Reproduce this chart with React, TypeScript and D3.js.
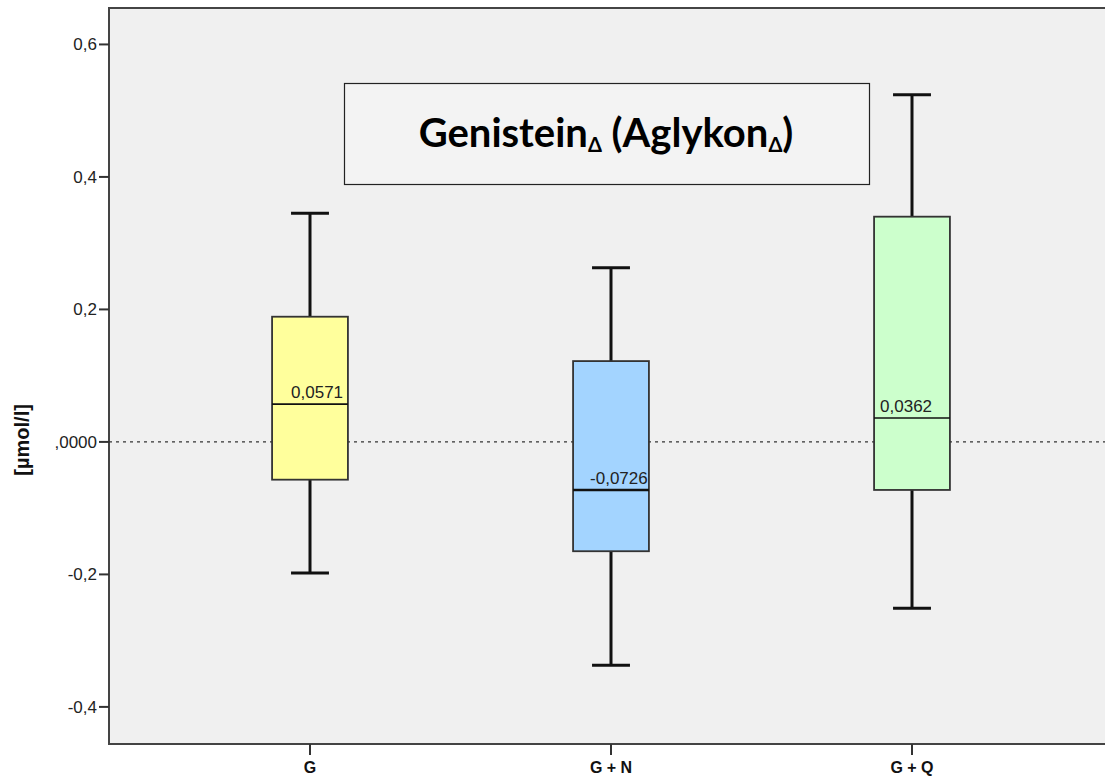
import React from "react";
import * as d3 from "d3";

const categories = ["G", "G + N", "G + Q"];
const whiskerLow = [-0.198, -0.337, -0.251];
const q1 = [-0.057, -0.165, -0.0725];
const median = [0.0571, -0.0726, 0.0362];
const q3 = [0.189, 0.122, 0.34];
const whiskerHigh = [0.345, 0.263, 0.524];
const medianLabels = ["0,0571", "-0,0726", "0,0362"];
const tickValues = [0.6, 0.4, 0.2, 0, -0.2, -0.4];
const tickLabels = ["0,6", "0,4", "0,2", ",0000", "-0,2", "-0,4"];
const boxColors = ["#ffff9c", "#a3d4ff", "#ccffcc"];
const labelDx = [19, 17, 6];

const W = 1105;
const H = 778;
const left = 109;
const top = 8;
const bottom = 744;

export default function App() {
  const y = d3.scaleLinear().domain([-0.456, 0.655]).range([bottom, top]);
  const x = d3.scaleBand<string>().domain(categories).range([159.5, 1062.5]);
  const bw = x.bandwidth();
  const boxW = bw * 0.252;
  const capW = boxW / 2;
  const fontAxis = "'Liberation Sans', Arial, sans-serif";

  return (
    <svg width={W} height={H} style={{ position: "absolute", left: 0, top: 0 }} xmlns="http://www.w3.org/2000/svg">
      <rect x={0} y={0} width={W} height={H} fill="#ffffff" />
      <rect x={left} y={top} width={W - left + 10} height={bottom - top} fill="#f0f0f0" stroke="#444" strokeWidth={2} />
      {/* zero reference line */}
      <line x1={left} x2={W} y1={y(0)} y2={y(0)} stroke="#333" strokeWidth={1.3} strokeDasharray="3,4" />
      {/* y ticks */}
      {tickValues.map((v, i) => (
        <g key={i}>
          <line x1={left - 10} x2={left} y1={y(v)} y2={y(v)} stroke="#333" strokeWidth={2} />
          <text x={left - 12} y={y(v)} dy="0.35em" textAnchor="end" fontFamily={fontAxis} fontSize={17} fill="#222">
            {tickLabels[i]}
          </text>
        </g>
      ))}
      {/* y axis title */}
      <text
        transform={`translate(22, ${y(0) - 2}) rotate(-90)`}
        textAnchor="middle"
        dy="0.35em"
        fontFamily={fontAxis}
        fontSize={20}
        fontWeight="bold"
        fill="#111"
      >
        [µmol/l]
      </text>
      {/* x ticks */}
      {categories.map((c, i) => {
        const cx = (x(c) as number) + bw / 2;
        return (
          <g key={c}>
            <line x1={cx} x2={cx} y1={bottom} y2={bottom + 11} stroke="#333" strokeWidth={2} />
            <text x={cx} y={bottom + 29} textAnchor="middle" fontFamily={fontAxis} fontSize={16} fontWeight="bold" fill="#111">
              {c}
            </text>
          </g>
        );
      })}
      {/* boxes */}
      {categories.map((c, i) => {
        const cx = (x(c) as number) + bw / 2;
        return (
          <g key={"b" + c}>
            <line x1={cx} x2={cx} y1={y(whiskerHigh[i])} y2={y(q3[i])} stroke="#111" strokeWidth={3} />
            <line x1={cx} x2={cx} y1={y(q1[i])} y2={y(whiskerLow[i])} stroke="#111" strokeWidth={3} />
            <line x1={cx - capW / 2} x2={cx + capW / 2} y1={y(whiskerHigh[i])} y2={y(whiskerHigh[i])} stroke="#111" strokeWidth={3} />
            <line x1={cx - capW / 2} x2={cx + capW / 2} y1={y(whiskerLow[i])} y2={y(whiskerLow[i])} stroke="#111" strokeWidth={3} />
            <rect
              x={cx - boxW / 2}
              y={y(q3[i])}
              width={boxW}
              height={y(q1[i]) - y(q3[i])}
              fill={boxColors[i]}
              stroke="#333"
              strokeWidth={1.8}
            />
            <line
              x1={cx - boxW / 2}
              x2={cx + boxW / 2}
              y1={y(median[i])}
              y2={y(median[i])}
              stroke="#111"
              strokeWidth={i === 1 ? 2.6 : 1.6}
            />
            <text
              x={cx - boxW / 2 + labelDx[i]}
              y={y(median[i]) - 6}
              fontFamily={fontAxis}
              fontSize={17}
              fill="#222"
            >
              {medianLabels[i]}
            </text>
          </g>
        );
      })}
      {/* title box */}
      <rect x={344.5} y={83.5} width={525} height={101} fill="#f3f3f3" stroke="#222" strokeWidth={1.2} />
      <text x={606} y={147} textAnchor="middle" fontFamily="Lato, 'Open Sans', sans-serif" fontSize={40} fontWeight="bold" fill="#000">
        Genistein
        <tspan fontSize={20} dy={5}>Δ</tspan>
        <tspan dy={-5}> (Aglykon</tspan>
        <tspan fontSize={20} dy={5}>Δ</tspan>
        <tspan dy={-5}>)</tspan>
      </text>
    </svg>
  );
}
